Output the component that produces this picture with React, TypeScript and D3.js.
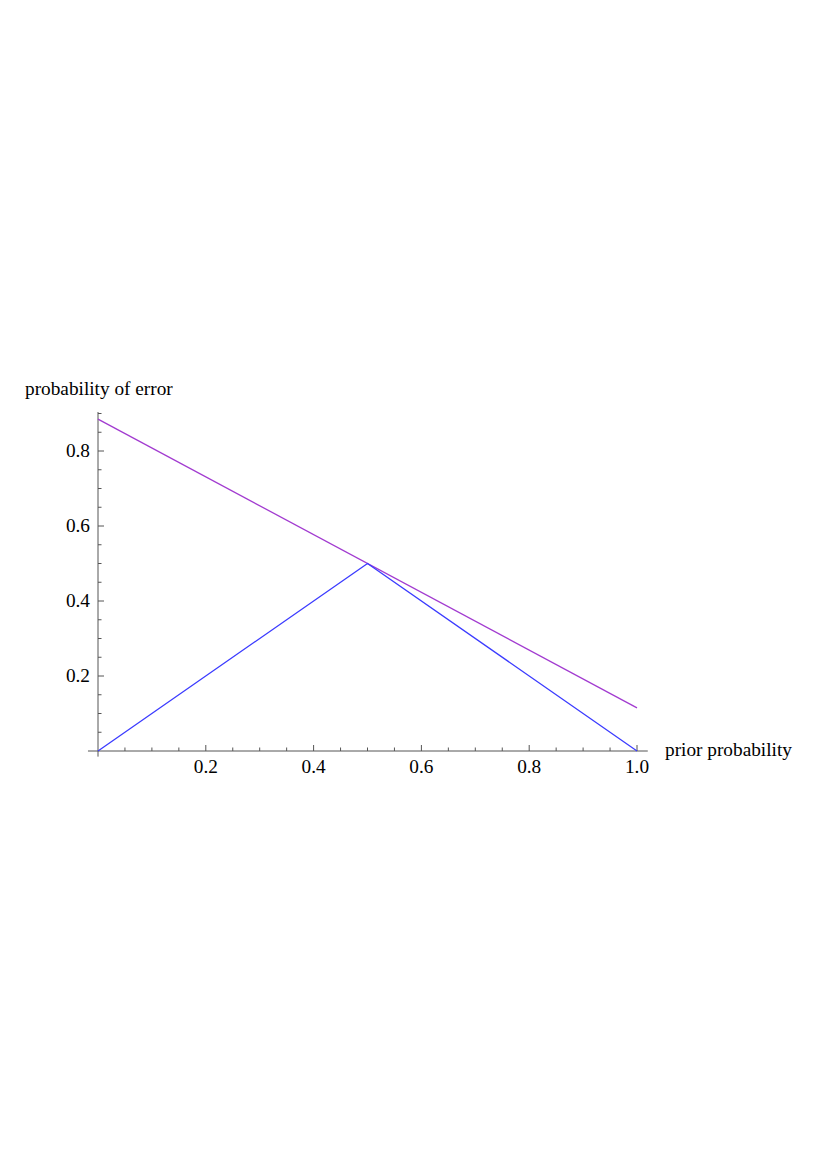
import React from "react";
import * as d3 from "d3";

const bayesX = [0, 0.5, 1];
const bayesY = [0, 0.5, 0];
const boundX = [0, 1];
const boundY = [0.885, 0.115];
const xTicks = [0.2, 0.4, 0.6, 0.8, 1.0];
const yTicks = [0.2, 0.4, 0.6, 0.8];
const xMinor = d3.range(1, 21).map((i) => i * 0.05).filter((v) => Math.abs(v * 5 - Math.round(v * 5)) > 1e-6);
const yMinor = d3.range(1, 19).map((i) => i * 0.05).filter((v) => Math.abs(v * 5 - Math.round(v * 5)) > 1e-6);

export default function App() {
  const W = 817, H = 1157;
  const x = d3.scaleLinear().domain([0, 1]).range([98, 637]);
  const y = d3.scaleLinear().domain([0, 0.8]).range([751, 451]);
  const line = d3.line<[number, number]>().x((d) => x(d[0])).y((d) => y(d[1]));
  const bayes = bayesX.map((v, i) => [v, bayesY[i]] as [number, number]);
  const bound = boundX.map((v, i) => [v, boundY[i]] as [number, number]);
  const font = "'Liberation Serif', 'Times New Roman', serif";
  const fs = 19.3;
  return (
    <svg width={W} height={H} style={{ display: "block", margin: "-8px" }}>
      <rect width={W} height={H} fill="#fff" />
      <g stroke="#555" strokeWidth={1} fill="none">
        <line x1={x(-0.0186)} x2={x(1.02)} y1={y(0)} y2={y(0)} />
        <line x1={x(0)} x2={x(0)} y1={y(-0.015)} y2={y(0.904)} />
        {xTicks.map((t) => (
          <line key={"xt" + t} x1={x(t)} x2={x(t)} y1={y(0)} y2={y(0) - 6} />
        ))}
        {xMinor.map((t) => (
          <line key={"xm" + t} x1={x(t)} x2={x(t)} y1={y(0)} y2={y(0) - 3.5} />
        ))}
        {yTicks.map((t) => (
          <line key={"yt" + t} x1={x(0)} x2={x(0) + 6} y1={y(t)} y2={y(t)} />
        ))}
        {yMinor.map((t) => (
          <line key={"ym" + t} x1={x(0)} x2={x(0) + 3.5} y1={y(t)} y2={y(t)} />
        ))}
      </g>
      <g fontFamily={font} fontSize={fs} fill="#000">
        {xTicks.map((t) => (
          <text key={"xl" + t} x={x(t)} y={y(0) + 22} textAnchor="middle">
            {t.toFixed(1)}
          </text>
        ))}
        {yTicks.map((t) => (
          <text key={"yl" + t} x={x(0) - 8} y={y(t) + 6} textAnchor="end">
            {t.toFixed(1)}
          </text>
        ))}
        <text x={25} y={395}>probability of error</text>
        <text x={665} y={y(0) + 5}>prior probability</text>
      </g>
      <path d={line(bound) || ""} fill="none" stroke="#a23bd0" strokeWidth={1.3} />
      <path d={line(bayes) || ""} fill="none" stroke="#3b3bff" strokeWidth={1.3} />
    </svg>
  );
}
